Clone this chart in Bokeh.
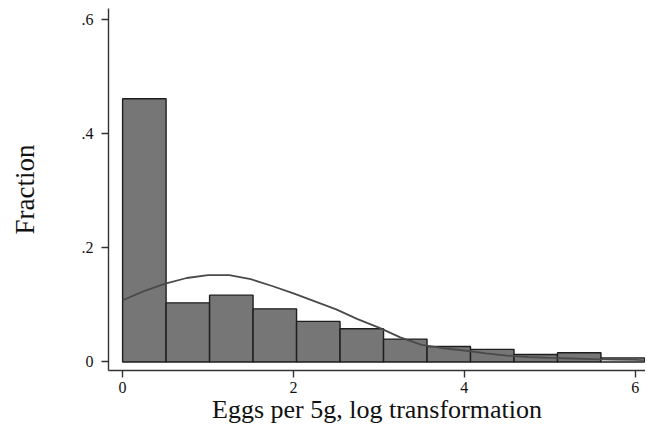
from bokeh.plotting import figure
from bokeh.models import Range1d, FixedTicker
from bokeh.embed import file_html
from bokeh.resources import INLINE

# Histogram bins (left edges) and fractions
bin_width = 0.509
bin_left = [0.0, 0.509, 1.018, 1.527, 2.036, 2.545, 3.054, 3.563, 4.072, 4.581, 5.090, 5.599]
fraction = [0.461, 0.1035, 0.117, 0.093, 0.071, 0.058, 0.040, 0.027, 0.022, 0.013, 0.016, 0.007]
bar_fill = ["#767676"] * 11 + ["#f2f2f2"]

# Overlaid normal curve
curve_x = [0, 0.25, 0.5, 0.75, 1.0, 1.25, 1.5, 1.75, 2.0, 2.25, 2.5, 2.75, 3.0,
           3.25, 3.5, 3.75, 4.0, 4.25, 4.5, 4.75, 5.0, 5.25, 5.5, 5.75, 6.0, 6.1]
curve_y = [0.108, 0.124, 0.137, 0.147, 0.152, 0.152, 0.145, 0.133, 0.120, 0.106,
           0.092, 0.075, 0.060, 0.043, 0.030, 0.024, 0.020, 0.015, 0.011, 0.0085,
           0.007, 0.006, 0.005, 0.004, 0.0035, 0.003]

x_ticks = [0, 2, 4, 6]
x_tick_labels = ["0", "2", "4", "6"]
y_ticks = [0, 0.2, 0.4, 0.6]
y_tick_labels = ["0", ".2", ".4", ".6"]

serif = "Liberation Serif"

p = figure(width=645, height=428, output_backend="svg", toolbar_location=None,
           x_range=Range1d(-0.165, 6.12), y_range=Range1d(-0.015, 0.619),
           min_border_left=108, min_border_right=0, min_border_top=8,
           min_border_bottom=58)

p.grid.visible = False
p.outline_line_color = None
p.background_fill_color = "white"
p.border_fill_color = "white"

bin_right = [l + bin_width for l in bin_left]
p.quad(left=bin_left, right=bin_right, bottom=0, top=fraction,
       fill_color=bar_fill, line_color="#1e1e1e", line_width=1.4)

p.line(curve_x, curve_y, line_color="#4a4a4a", line_width=1.8)

for ax in (p.xaxis[0], p.yaxis[0]):
    ax.axis_line_color = "#333333"
    ax.axis_line_width = 1.4
    ax.major_tick_line_color = "#333333"
    ax.major_tick_line_width = 1.4
    ax.major_tick_in = 0
    ax.major_tick_out = 7
    ax.minor_tick_line_color = None
    ax.major_label_text_font = serif
    ax.major_label_text_font_size = "16px"
    ax.major_label_text_color = "#111111"
    ax.axis_label_text_font = serif
    ax.axis_label_text_font_style = "normal"
    ax.axis_label_text_color = "#111111"

p.xaxis.ticker = FixedTicker(ticks=x_ticks)
p.xaxis.major_label_overrides = {t: l for t, l in zip(x_ticks, x_tick_labels)}
p.xaxis.major_label_standoff = 4
p.xaxis.axis_label = "Eggs per 5g, log transformation"
p.xaxis.axis_label_text_font_size = "26px"
p.xaxis.axis_label_standoff = -1

p.yaxis.ticker = FixedTicker(ticks=y_ticks)
p.yaxis.major_label_overrides = {t: l for t, l in zip(y_ticks, y_tick_labels)}
p.yaxis.major_label_orientation = "horizontal"
p.yaxis.major_label_standoff = 8
p.yaxis.axis_label = "Fraction"
p.yaxis.axis_label_text_font_size = "27px"
p.yaxis.axis_label_standoff = 39

open("out.html", "w").write(file_html(p, INLINE))
